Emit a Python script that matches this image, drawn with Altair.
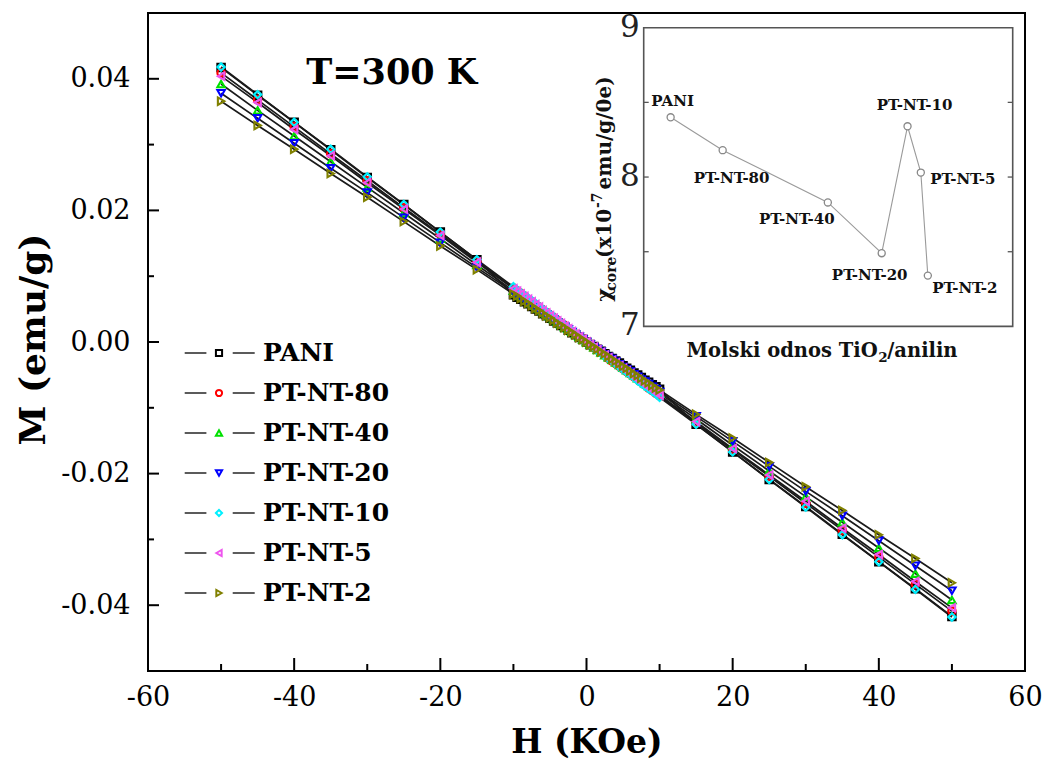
import altair as alt
import pandas as pd

FONT = "DejaVu Serif"

SERIES = ["PANI", "PT-NT-80", "PT-NT-40", "PT-NT-20", "PT-NT-10", "PT-NT-5", "PT-NT-2"]
COLORS = ["#000000", "#FF0000", "#00E000", "#0000FF", "#00F0FF", "#EE55EE", "#808000"]
SHAPES = ["square", "circle", "triangle-up", "triangle-down", "diamond", "triangle-left", "triangle-right"]

H_KOE = [-50, -45, -40, -35, -30, -25, -20, -15,
         -10, -9.5, -9, -8.5, -8, -7.5, -7, -6.5, -6, -5.5, -5, -4.5,
         -4, -3.5, -3, -2.5, -2, -1.5, -1, -0.5, 0, 0.5, 1, 1.5, 2, 2.5,
         3, 3.5, 4, 4.5, 5, 5.5, 6, 6.5, 7, 7.5, 8, 8.5, 9, 9.5, 10,
         15, 20, 25, 30, 35, 40, 45, 50]

M_PANI = [0.0417, 0.0375, 0.0334, 0.0292, 0.0250, 0.0209, 0.0167, 0.0125,
          0.0072, 0.0068, 0.0065, 0.0061, 0.0058, 0.0054, 0.0050, 0.0047, 0.0043, 0.0040,
          0.0036, 0.0032, 0.0029, 0.0025, 0.0022, 0.0018, 0.0014, 0.0011, 0.0007, 0.0004,
          0.0000,
          -0.0004, -0.0007, -0.0011, -0.0014, -0.0018, -0.0022, -0.0025, -0.0029, -0.0032, -0.0036,
          -0.0040, -0.0043, -0.0047, -0.0050, -0.0054, -0.0058, -0.0061, -0.0065, -0.0068, -0.0072,
          -0.0125, -0.0167, -0.0209, -0.0250, -0.0292, -0.0334, -0.0375, -0.0417]
M_80 = [0.0409, 0.0368, 0.0327, 0.0286, 0.0245, 0.0204, 0.0164, 0.0123,
        0.0082, 0.0078, 0.0074, 0.0070, 0.0065, 0.0061, 0.0057, 0.0053, 0.0049, 0.0045,
        0.0041, 0.0037, 0.0033, 0.0029, 0.0025, 0.0020, 0.0016, 0.0012, 0.0008, 0.0004,
        0.0000,
        -0.0004, -0.0008, -0.0012, -0.0016, -0.0020, -0.0025, -0.0029, -0.0033, -0.0037, -0.0041,
        -0.0045, -0.0049, -0.0053, -0.0057, -0.0061, -0.0065, -0.0070, -0.0074, -0.0078, -0.0082,
        -0.0123, -0.0164, -0.0204, -0.0245, -0.0286, -0.0327, -0.0368, -0.0409]
M_40 = [0.0392, 0.0352, 0.0313, 0.0274, 0.0235, 0.0196, 0.0157, 0.0117,
        0.0078, 0.0074, 0.0070, 0.0067, 0.0063, 0.0059, 0.0055, 0.0051, 0.0047, 0.0043,
        0.0039, 0.0035, 0.0031, 0.0027, 0.0023, 0.0020, 0.0016, 0.0012, 0.0008, 0.0004,
        0.0000,
        -0.0004, -0.0008, -0.0012, -0.0016, -0.0020, -0.0023, -0.0027, -0.0031, -0.0035, -0.0039,
        -0.0043, -0.0047, -0.0051, -0.0055, -0.0059, -0.0063, -0.0067, -0.0070, -0.0074, -0.0078,
        -0.0117, -0.0157, -0.0196, -0.0235, -0.0274, -0.0313, -0.0352, -0.0392]
M_20 = [0.0378, 0.0340, 0.0302, 0.0264, 0.0227, 0.0189, 0.0151, 0.0113,
        0.0076, 0.0072, 0.0068, 0.0064, 0.0060, 0.0057, 0.0053, 0.0049, 0.0045, 0.0042,
        0.0038, 0.0034, 0.0030, 0.0026, 0.0023, 0.0019, 0.0015, 0.0011, 0.0008, 0.0004,
        0.0000,
        -0.0004, -0.0008, -0.0011, -0.0015, -0.0019, -0.0023, -0.0026, -0.0030, -0.0034, -0.0038,
        -0.0042, -0.0045, -0.0049, -0.0053, -0.0057, -0.0060, -0.0064, -0.0068, -0.0072, -0.0076,
        -0.0113, -0.0151, -0.0189, -0.0227, -0.0264, -0.0302, -0.0340, -0.0378]
M_10 = [0.0418, 0.0376, 0.0334, 0.0293, 0.0251, 0.0209, 0.0167, 0.0125,
        0.0084, 0.0079, 0.0075, 0.0071, 0.0067, 0.0063, 0.0059, 0.0054, 0.0050, 0.0046,
        0.0042, 0.0038, 0.0033, 0.0029, 0.0025, 0.0021, 0.0017, 0.0013, 0.0008, 0.0004,
        0.0000,
        -0.0004, -0.0008, -0.0013, -0.0017, -0.0021, -0.0025, -0.0029, -0.0033, -0.0038, -0.0042,
        -0.0046, -0.0050, -0.0054, -0.0059, -0.0063, -0.0067, -0.0071, -0.0075, -0.0079, -0.0084,
        -0.0125, -0.0167, -0.0209, -0.0251, -0.0293, -0.0334, -0.0376, -0.0418]
M_5 = [0.0404, 0.0364, 0.0323, 0.0283, 0.0242, 0.0202, 0.0162, 0.0121,
       0.0081, 0.0077, 0.0073, 0.0069, 0.0065, 0.0061, 0.0057, 0.0053, 0.0048, 0.0044,
       0.0040, 0.0036, 0.0032, 0.0028, 0.0024, 0.0020, 0.0016, 0.0012, 0.0008, 0.0004,
       0.0000,
       -0.0004, -0.0008, -0.0012, -0.0016, -0.0020, -0.0024, -0.0028, -0.0032, -0.0036, -0.0040,
       -0.0044, -0.0048, -0.0053, -0.0057, -0.0061, -0.0065, -0.0069, -0.0073, -0.0077, -0.0081,
       -0.0121, -0.0162, -0.0202, -0.0242, -0.0283, -0.0323, -0.0364, -0.0404]
M_2 = [0.0366, 0.0329, 0.0293, 0.0256, 0.0220, 0.0183, 0.0146, 0.0110,
       0.0073, 0.0070, 0.0066, 0.0062, 0.0059, 0.0055, 0.0051, 0.0048, 0.0044, 0.0040,
       0.0037, 0.0033, 0.0029, 0.0026, 0.0022, 0.0018, 0.0015, 0.0011, 0.0007, 0.0004,
       0.0000,
       -0.0004, -0.0007, -0.0011, -0.0015, -0.0018, -0.0022, -0.0026, -0.0029, -0.0033, -0.0037,
       -0.0040, -0.0044, -0.0048, -0.0051, -0.0055, -0.0059, -0.0062, -0.0066, -0.0070, -0.0073,
       -0.0110, -0.0146, -0.0183, -0.0220, -0.0256, -0.0293, -0.0329, -0.0366]
M_ALL = [M_PANI, M_80, M_40, M_20, M_10, M_5, M_2]

X_TICKS_MAJOR = [-60, -40, -20, 0, 20, 40, 60]
X_TICKS_MINOR = [-50, -30, -10, 10, 30, 50]
Y_TICKS_MAJOR = [-0.04, -0.02, 0.0, 0.02, 0.04]
Y_TICKS_MINOR = [-0.03, -0.01, 0.01, 0.03]

# inset: chi_core (x10^-7 emu/g/Oe) vs molar ratio (positions along the unlabeled axis)
INSET_POS = [7.3, 21.4, 49.9, 64.5, 71.5, 75.1, 77.0]
CHI_CORE = [8.40, 8.18, 7.83, 7.49, 8.34, 8.03, 7.34]
INSET_Y_TICKS = [7, 8, 9]
INSET_Y_MINOR = [7.5, 8, 8.5]
LABEL_OFFSETS = [(2, -16), (9, 28), (-31, 17), (-12, 22), (7, -21), (42, 6), (37, 12)]

# ---------------- layout constants (pixels) ----------------
W, H = 877, 658
IN_X = [495.7, 864.7]
IN_Y = [313.4, 14.7]

rows = []
for name, vals in zip(SERIES, M_ALL):
    assert len(vals) == len(H_KOE)
    for h, m in zip(H_KOE, vals):
        rows.append({"series": name, "H": h, "M": m})
df = pd.DataFrame(rows)

xs = alt.Scale(domain=[-60, 60], nice=False, zero=False)
ys = alt.Scale(domain=[-0.05, 0.05], nice=False, zero=False)
col = alt.Color("series:N", scale=alt.Scale(domain=SERIES, range=COLORS), legend=None)
shp = alt.Shape("series:N", scale=alt.Scale(domain=SERIES, range=SHAPES), legend=None)

x_axis = alt.Axis(values=X_TICKS_MAJOR, ticks=False, domain=False, grid=False,
                  labelFont=FONT, labelFontSize=27, labelColor="black", labelPadding=13,
                  labelFlush=False, labelOverlap=False,
                  labelExpr="replace(format(datum.value, 'd'), '\u2212', '-')",
                  title="H (KOe)", titleFont=FONT, titleFontSize=33, titleFontWeight="bold",
                  titleColor="black", titleX=W / 2, titleY=55, titleBaseline="top",
                  titleAlign="center")
y_axis = alt.Axis(values=Y_TICKS_MAJOR, ticks=False, domain=False, grid=False,
                  labelFont=FONT, labelFontSize=27, labelColor="black", labelPadding=18,
                  labelOverlap=False,
                  labelExpr="replace(format(datum.value, '.2f'), '\u2212', '-')",
                  title="M (emu/g)", titleFont=FONT, titleFontSize=36, titleFontWeight="bold",
                  titleColor="black", titleX=-96, titleY=326, titleBaseline="bottom",
                  titleAlign="center", titleAngle=270)

lines = alt.Chart(df).mark_line(color="#1a1a1a", strokeWidth=1.7).encode(
    x=alt.X("H:Q", scale=xs, axis=x_axis),
    y=alt.Y("M:Q", scale=ys, axis=y_axis),
    detail="series:N",
)
points = alt.Chart(df).mark_point(filled=False, size=55, strokeWidth=2.1, opacity=1).encode(
    x=alt.X("H:Q", scale=xs, axis=None),
    y=alt.Y("M:Q", scale=ys, axis=None),
    color=col, shape=shp,
)

def xticks(vals, length):
    return alt.Chart(pd.DataFrame({"t": vals})).mark_rule(color="black", strokeWidth=2).encode(
        x=alt.X("t:Q", scale=xs, axis=None), y=alt.value(H), y2=alt.value(H - length))

def yticks(vals, length):
    return alt.Chart(pd.DataFrame({"t": vals})).mark_rule(color="black", strokeWidth=2).encode(
        y=alt.Y("t:Q", scale=ys, axis=None), x=alt.value(0), x2=alt.value(length))

temp_text = alt.Chart(pd.DataFrame({"t": ["T=300 K"]})).mark_text(
    font=FONT, fontSize=35, fontWeight="bold", color="black", align="center", baseline="middle"
).encode(x=alt.value(243.7), y=alt.value(59.7), text="t:N")

# ---------------- legend ----------------
leg = pd.DataFrame({"series": SERIES, "idx": list(range(len(SERIES)))})
ly = alt.Scale(domain=[0, 6], range=[340, 580])
leg_l = alt.Chart(leg).mark_rule(color="#333333", strokeWidth=1.6).encode(
    y=alt.Y("idx:Q", scale=ly, axis=None), x=alt.value(36.7), x2=alt.value(58.4))
leg_r = alt.Chart(leg).mark_rule(color="#333333", strokeWidth=1.6).encode(
    y=alt.Y("idx:Q", scale=ly, axis=None), x=alt.value(84.7), x2=alt.value(106.7))
leg_p = alt.Chart(leg).mark_point(filled=False, size=38, strokeWidth=2, opacity=1).encode(
    y=alt.Y("idx:Q", scale=ly, axis=None), x=alt.value(71), color=col, shape=shp)
leg_t = alt.Chart(leg).mark_text(font=FONT, fontSize=25, fontWeight="bold", color="black",
                                 align="left", baseline="middle").encode(
    y=alt.Y("idx:Q", scale=ly, axis=None), x=alt.value(115), text="series:N")

# ---------------- inset ----------------
ins = pd.DataFrame({"series": SERIES, "pos": INSET_POS, "chi": CHI_CORE})
ixs = alt.Scale(domain=[0, 100], range=IN_X, nice=False, zero=False)
iys = alt.Scale(domain=[7, 9], range=IN_Y, nice=False, zero=False)

frame = alt.Chart(pd.DataFrame({"a": [0]})).mark_rect(fill="white", stroke="#555555",
                                                      strokeWidth=1.6).encode(
    x=alt.value(IN_X[0]), x2=alt.value(IN_X[1]), y=alt.value(IN_Y[1]), y2=alt.value(IN_Y[0]))
in_ticks_r = alt.Chart(pd.DataFrame({"t": INSET_Y_MINOR})).mark_rule(color="#555555", strokeWidth=1.3).encode(
    y=alt.Y("t:Q", scale=iys, axis=None), x=alt.value(IN_X[1] - 5), x2=alt.value(IN_X[1]))
in_ticks_l = alt.Chart(pd.DataFrame({"t": INSET_Y_MINOR})).mark_rule(color="#555555", strokeWidth=1.3).encode(
    y=alt.Y("t:Q", scale=iys, axis=None), x=alt.value(IN_X[0]), x2=alt.value(IN_X[0] + 5))
in_labels_y = alt.Chart(pd.DataFrame({"t": INSET_Y_TICKS})).mark_text(
    font=FONT, fontSize=31, color="#222222", align="right", baseline="middle").encode(
    y=alt.Y("t:Q", scale=iys, axis=None), x=alt.value(IN_X[0] - 4), text="t:Q")
in_line = alt.Chart(ins).mark_line(color="#9a9a9a", strokeWidth=1.1).encode(
    x=alt.X("pos:Q", scale=ixs, axis=None), y=alt.Y("chi:Q", scale=iys, axis=None))
in_pts = alt.Chart(ins).mark_point(shape="circle", filled=True, fill="white", stroke="#888888",
                                   strokeWidth=1.3, size=50, opacity=1).encode(
    x=alt.X("pos:Q", scale=ixs, axis=None), y=alt.Y("chi:Q", scale=iys, axis=None))
in_text = []
for name, (dx, dy) in zip(SERIES, LABEL_OFFSETS):
    in_text.append(
        alt.Chart(ins).transform_filter(alt.datum.series == name).mark_text(
            font=FONT, fontSize=15, fontWeight="bold", color="#111111",
            align="center", baseline="middle", dx=dx, dy=dy).encode(
            x=alt.X("pos:Q", scale=ixs, axis=None), y=alt.Y("chi:Q", scale=iys, axis=None),
            text="series:N"))

def label(txt, x, y, size, angle=0, align="left", baseline="alphabetic"):
    return alt.Chart(pd.DataFrame({"t": [txt]})).mark_text(
        font=FONT, fontSize=size, fontWeight="bold", color="#111111", align=align,
        baseline=baseline, angle=angle).encode(x=alt.value(x), y=alt.value(y), text="t:N")

in_ytitle = [
    label("\u03c7", 462.7, 288.7, 21, angle=270),
    label("core", 467.7, 277.7, 14, angle=270),
    label("(x10", 462.7, 245.0, 20, angle=270),
    label("-7", 454.0, 195.0, 14, angle=270),
    label("emu/g/0e)", 462.7, 176.5, 20, angle=270),
]
J = 729.7
in_xtitle = [
    label("Molski odnos TiO", J, 343.7, 19.5, align="right"),
    label("2", J + 0.5, 349.0, 13.5),
    label("/anilin", J + 9.5, 343.7, 19.5),
]

chart = alt.layer(
    lines, points,
    xticks(X_TICKS_MAJOR, 13), xticks(X_TICKS_MINOR, 7),
    yticks(Y_TICKS_MAJOR, 11), yticks(Y_TICKS_MINOR, 6),
    temp_text, leg_l, leg_r, leg_p, leg_t,
    frame, in_ticks_r, in_ticks_l, in_line, in_pts, in_labels_y,
    *in_text, *in_ytitle, *in_xtitle,
).resolve_scale(x="independent", y="independent").properties(
    width=W, height=H,
    autosize=alt.AutoSizeParams(type="none"),
    padding={"left": 140, "top": 5, "right": 18, "bottom": 88},
    background="white",
).configure_view(stroke="black", strokeWidth=2)

chart.save("out.html", embed_options={"renderer": "svg", "actions": False})
